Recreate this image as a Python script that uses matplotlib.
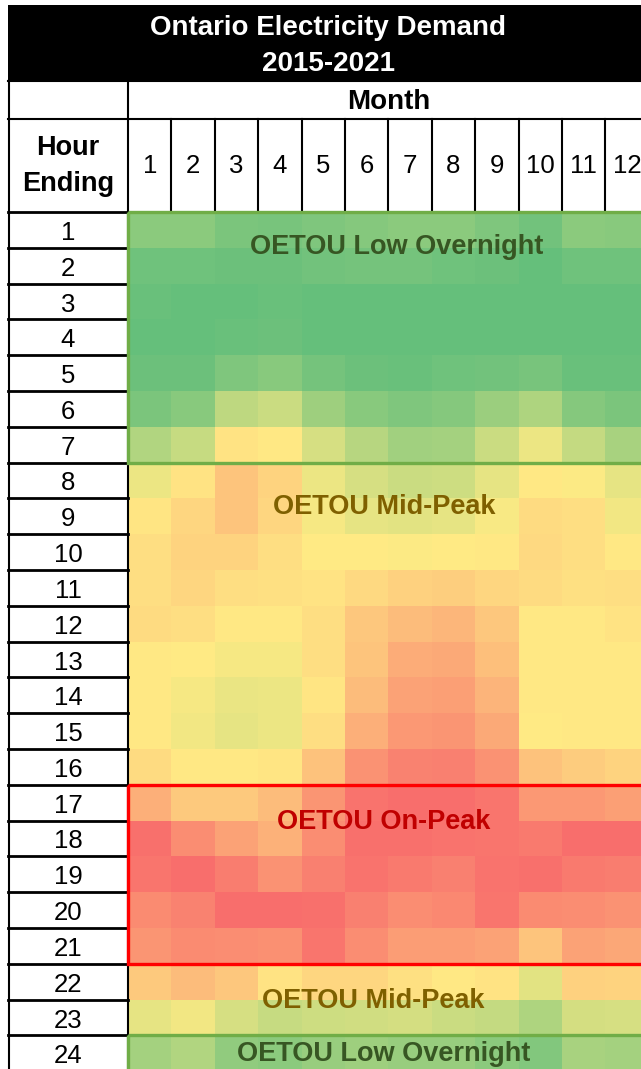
import numpy as np
import matplotlib.pyplot as plt
from matplotlib.colors import LinearSegmentedColormap
from matplotlib.patches import Rectangle

plt.rcParams['font.family'] = ['Liberation Sans', 'DejaVu Sans']

# %% data: relative demand per hour ending (rows) and month (columns), 0 = lowest, 100 = highest
months = [str(m) for m in range(1, 13)]
hours = [str(h) for h in range(1, 25)]

h01 = [13, 13, 8, 7, 9, 11, 13, 13, 9, 5, 13, 12]
h02 = [4, 4, 3, 3, 5, 6, 6, 4, 3, 1, 4, 4]
h03 = [2, 1, 1, 2, 1, 1, 1, 1, 1, 1, 1, 1]
h04 = [1, 1, 2, 3, 1, 1, 1, 1, 1, 1, 1, 1]
h05 = [3, 3, 9, 12, 6, 3, 2, 4, 5, 7, 2, 2]
h06 = [8, 12, 29, 33, 19, 12, 9, 11, 18, 24, 11, 8]
h07 = [25, 32, 53, 51, 37, 27, 20, 21, 33, 44, 31, 22]
h08 = [44, 53, 65, 59, 44, 37, 33, 34, 42, 51, 49, 42]
h09 = [52, 58, 65, 58, 47, 42, 41, 42, 48, 56, 55, 46]
h10 = [55, 59, 59, 55, 50, 50, 49, 50, 51, 57, 55, 51]
h11 = [55, 58, 55, 54, 53, 57, 60, 61, 58, 56, 54, 55]
h12 = [56, 55, 51, 51, 55, 64, 68, 70, 64, 51, 51, 53]
h13 = [51, 50, 47, 47, 55, 65, 74, 75, 67, 51, 51, 51]
h14 = [51, 47, 43, 44, 52, 68, 78, 79, 71, 51, 51, 51]
h15 = [51, 46, 42, 44, 55, 73, 82, 83, 75, 50, 51, 51]
h16 = [56, 51, 51, 52, 66, 84, 90, 91, 84, 66, 62, 59]
h17 = [73, 63, 63, 68, 83, 96, 98, 98, 95, 82, 82, 79]
h18 = [97, 86, 78, 72, 86, 97, 97, 96, 95, 93, 98, 98]
h19 = [95, 98, 92, 84, 91, 96, 93, 91, 96, 97, 93, 92]
h20 = [87, 90, 98, 98, 97, 91, 86, 88, 95, 87, 86, 84]
h21 = [83, 87, 86, 85, 95, 86, 80, 80, 78, 65, 78, 76]
h22 = [63, 68, 64, 53, 58, 58, 54, 51, 53, 41, 60, 59]
h23 = [42, 46, 37, 32, 34, 35, 36, 33, 31, 24, 36, 37]
h24 = [21, 25, 15, 13, 17, 19, 17, 17, 13, 10, 22, 21]

demand = np.array([h01, h02, h03, h04, h05, h06, h07, h08, h09, h10, h11, h12,
                   h13, h14, h15, h16, h17, h18, h19, h20, h21, h22, h23, h24])

# OETOU periods: (label, first row, end row, text colour, box colour, text x in cols, text y in rows)
periods = [
    ('OETOU Low Overnight', 0, 7, '#375623', '#70AD47', 6.18, 0.97),
    ('OETOU Mid-Peak', 7, 16, '#7F6000', None, 5.9, 8.25),
    ('OETOU On-Peak', 16, 21, '#C00000', '#FF0000', 5.9, 17.05),
    ('OETOU Mid-Peak', 21, 23, '#7F6000', None, 5.65, 22.05),
    ('OETOU Low Overnight', 23, 25, '#375623', '#70AD47', 5.9, 23.51),
]

# %% layout in pixels
W, H = 641, 1069
L = 8          # table left edge
X0 = 128       # first month column
CW = 43.4      # month column width
Y0 = 212       # first hour row
RH = 35.8      # hour row height

cmap = LinearSegmentedColormap.from_list('excel3', ['#63BE7B', '#FFEB84', '#F8696B'])

fig = plt.figure(figsize=(W / 100, H / 100), dpi=100)
ax = fig.add_axes([0, 0, 1, 1])
ax.set_xlim(0, W)
ax.set_ylim(H, 0)
ax.axis('off')

xe = X0 + CW * np.arange(len(months) + 1)
ye = Y0 + RH * np.arange(len(hours) + 1)
ax.pcolormesh(xe, ye, demand, cmap=cmap, vmin=0, vmax=100, zorder=1)

# title block
ax.add_patch(Rectangle((L, 5), W - L, 75, facecolor='black', edgecolor='none', zorder=2))
ax.text((L + xe[-1]) / 2, 28, 'Ontario Electricity Demand', color='white', fontsize=20,
        fontweight='bold', ha='center', va='center', zorder=5)
ax.text((L + xe[-1]) / 2, 64, '2015-2021', color='white', fontsize=20,
        fontweight='bold', ha='center', va='center', zorder=5)

lw = 1.5
# header grid
ax.plot([L, W], [81, 81], color='black', lw=lw, zorder=3)
ax.plot([L, W], [119, 119], color='black', lw=lw, zorder=3)
ax.plot([L + 1, L + 1], [80, H], color='black', lw=lw, zorder=3)
ax.plot([X0, X0], [80, H], color='black', lw=lw, zorder=3)
for x in xe[1:-1]:
    ax.plot([x, x], [119, Y0], color='black', lw=lw, zorder=3)
for y in ye:
    ax.plot([L, X0], [y, y], color='black', lw=2, zorder=3)

ax.text((X0 + xe[-1]) / 2, 102, 'Month', fontsize=20, fontweight='bold',
        ha='center', va='center', zorder=5)
ax.text((L + X0) / 2, 148, 'Hour', fontsize=19.5, fontweight='bold',
        ha='center', va='center', zorder=5)
ax.text((L + X0) / 2, 184, 'Ending', fontsize=19.5, fontweight='bold',
        ha='center', va='center', zorder=5)
for i, m in enumerate(months):
    ax.text((xe[i] + xe[i + 1]) / 2, 166, m, fontsize=18.5, ha='center', va='center', zorder=5)
for j, h in enumerate(hours):
    ax.text((L + X0) / 2, (ye[j] + ye[j + 1]) / 2 + 3, h, fontsize=18.5,
            ha='center', va='center', zorder=5)

# OETOU boxes and labels
for label, r0, r1, tc, bc, cx, cy in periods:
    if bc is not None:
        ax.add_patch(Rectangle((X0, Y0 + RH * r0), W + 20 - X0, RH * (r1 - r0),
                               facecolor='none', edgecolor=bc, lw=2.4, zorder=4))
    ax.text(X0 + CW * cx, Y0 + RH * cy, label, color=tc, fontsize=19.5, fontweight='bold',
            ha='center', va='center', zorder=5)

fig.savefig('out.png', dpi=100)
